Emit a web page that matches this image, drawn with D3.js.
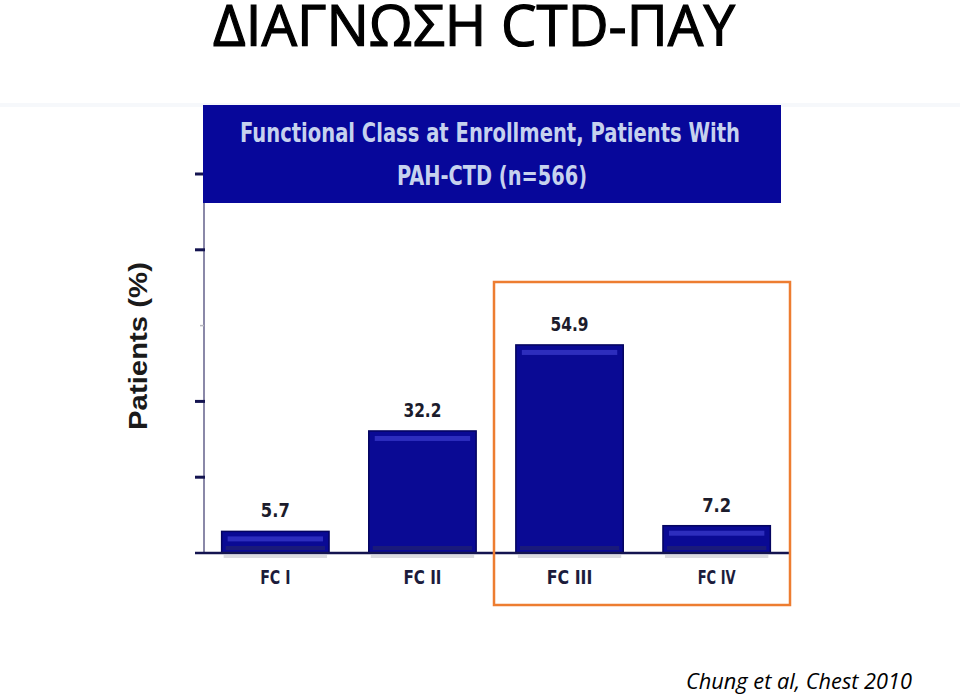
<!DOCTYPE html>
<html>
<head>
<meta charset="utf-8">
<script src="https://cdn.jsdelivr.net/npm/d3@7"></script>
<style>
  body { margin: 0; background: #fff; }
  svg { display: block; }
</style>
</head>
<body>
<svg id="chart"></svg>
<script>
const categories = ["FC I", "FC II", "FC III", "FC IV"];
const values = [5.7, 32.2, 54.9, 7.2];
const yTicks = [0, 20, 40, 60, 80, 100];
const headerLines = ["Functional Class at Enrollment, Patients With", "PAH-CTD (n=566)"];
const slideTitle = "ΔΙΑΓΝΩΣΗ CTD-ΠΑΥ";
const citation = "Chung et al, Chest 2010";
const yLabel = "Patients (%)";

const width = 960;
const height = 694;
const baseY = 553;
const topY = 174;
const axisX = 204;

const svg = d3.select("#chart")
  .attr("width", width)
  .attr("height", height);

const narrow = "'Liberation Sans Narrow', 'DejaVu Sans Condensed', 'Roboto Condensed', sans-serif";

// slide title
svg.append("text")
  .attr("x", 213)
  .attr("y", 46)
  .attr("font-family", "'Open Sans', 'Noto Sans', sans-serif")
  .attr("font-size", 57)
  .attr("textLength", 522)
  .attr("lengthAdjust", "spacingAndGlyphs")
  .attr("fill", "#000")
  .attr("stroke", "#000")
  .attr("stroke-width", 1.2)
  .text(slideTitle);

// faint band behind the pasted picture
svg.append("rect")
  .attr("x", 0).attr("y", 103)
  .attr("width", width).attr("height", 4)
  .attr("fill", "#f6f8fb");

const xScale = d3.scaleBand()
  .domain(categories)
  .range([axisX, 788])
  .paddingInner(0.27)
  .paddingOuter(0.12);

const yScale = d3.scaleLinear()
  .domain([0, 100])
  .range([baseY, topY]);

// y axis line
svg.append("line")
  .attr("x1", axisX).attr("x2", axisX)
  .attr("y1", 200).attr("y2", baseY)
  .attr("stroke", "#8a88a8")
  .attr("stroke-width", 2);

// ticks (the 60 tick is faint in the source)
svg.append("g")
  .selectAll("line")
  .data(yTicks.filter(d => d > 0))
  .enter()
  .append("line")
  .attr("x1", d => d === 60 ? 200 : 195)
  .attr("x2", d => d === 60 ? 204 : 205)
  .attr("y1", d => yScale(d))
  .attr("y2", d => yScale(d))
  .attr("stroke", d => d === 60 ? "#b8b8c0" : "#141450")
  .attr("stroke-width", d => d === 60 ? 1.5 : 3);

// shadows under bars
svg.append("g")
  .selectAll("rect")
  .data(categories)
  .enter()
  .append("rect")
  .attr("x", d => xScale(d) + 2)
  .attr("y", baseY + 2)
  .attr("width", xScale.bandwidth() - 4)
  .attr("height", 3)
  .attr("fill", "#dcdce0");

// bars
const bars = svg.append("g")
  .selectAll("g")
  .data(values)
  .enter()
  .append("g");

bars.append("rect")
  .attr("x", (d, i) => xScale(categories[i]))
  .attr("y", d => yScale(d))
  .attr("width", xScale.bandwidth())
  .attr("height", d => baseY - yScale(d))
  .attr("fill", "#0a0a94")
  .attr("stroke", "#050560")
  .attr("stroke-width", 1.5);

bars.append("rect")
  .attr("x", (d, i) => xScale(categories[i]) + 6)
  .attr("y", d => yScale(d) + 5)
  .attr("width", xScale.bandwidth() - 12)
  .attr("height", 5)
  .attr("fill", "#3434c4")
  .attr("opacity", 0.85);

bars.append("rect")
  .attr("x", (d, i) => xScale(categories[i]) + 4)
  .attr("y", baseY - 7)
  .attr("width", xScale.bandwidth() - 8)
  .attr("height", 4)
  .attr("fill", "#1a1a7a");

// value labels
bars.append("text")
  .attr("x", (d, i) => xScale(categories[i]) + xScale.bandwidth() / 2)
  .attr("y", d => yScale(d) - 14)
  .attr("font-family", narrow)
  .attr("font-size", 19)
  .attr("font-weight", "bold")
  .attr("text-anchor", "middle")
  .attr("textLength", d => d >= 10 ? 38 : 29)
  .attr("lengthAdjust", "spacingAndGlyphs")
  .attr("fill", "#1c1c2c")
  .text(d => d.toFixed(1));

// baseline
svg.append("line")
  .attr("x1", 195).attr("x2", 790)
  .attr("y1", baseY).attr("y2", baseY)
  .attr("stroke", "#141450")
  .attr("stroke-width", 2.5);

// category labels
svg.append("g")
  .selectAll("text")
  .data(categories)
  .enter()
  .append("text")
  .attr("x", d => xScale(d) + xScale.bandwidth() / 2)
  .attr("y", 584)
  .attr("font-family", narrow)
  .attr("font-size", 19)
  .attr("font-weight", "bold")
  .attr("text-anchor", "middle")
  .attr("textLength", d => d.length * 7.6)
  .attr("lengthAdjust", "spacingAndGlyphs")
  .attr("fill", "#1c1c3c")
  .text(d => d);

// y label
svg.append("text")
  .attr("transform", "translate(147,346) rotate(-90)")
  .attr("font-family", "'Liberation Sans', 'DejaVu Sans', sans-serif")
  .attr("font-size", 25)
  .attr("font-weight", "bold")
  .attr("text-anchor", "middle")
  .attr("textLength", 168)
  .attr("lengthAdjust", "spacingAndGlyphs")
  .attr("fill", "#1a1a1a")
  .text(yLabel);

// header box
svg.append("rect")
  .attr("x", 203).attr("y", 105)
  .attr("width", 578).attr("height", 98)
  .attr("fill", "#07079a");

const headerText = svg.append("g")
  .attr("font-family", narrow)
  .attr("font-weight", "bold")
  .attr("font-size", 27)
  .attr("fill", "#c6d2ee")
  .attr("text-anchor", "middle");

headerText.append("text")
  .attr("x", 490).attr("y", 142)
  .attr("textLength", 500)
  .attr("lengthAdjust", "spacingAndGlyphs")
  .text(headerLines[0]);

headerText.append("text")
  .attr("x", 492).attr("y", 185)
  .attr("textLength", 190)
  .attr("lengthAdjust", "spacingAndGlyphs")
  .text(headerLines[1]);

// orange highlight box
svg.append("rect")
  .attr("x", 494).attr("y", 282)
  .attr("width", 296).attr("height", 323)
  .attr("fill", "none")
  .attr("stroke", "#ed7d31")
  .attr("stroke-width", 2.5);

// citation
svg.append("text")
  .attr("x", 686)
  .attr("y", 689)
  .attr("font-family", "'Open Sans', 'Noto Sans', sans-serif")
  .attr("font-style", "italic")
  .attr("font-size", 22)
  .attr("textLength", 226)
  .attr("lengthAdjust", "spacingAndGlyphs")
  .attr("fill", "#000")
  .text(citation);
</script>
</body>
</html>
